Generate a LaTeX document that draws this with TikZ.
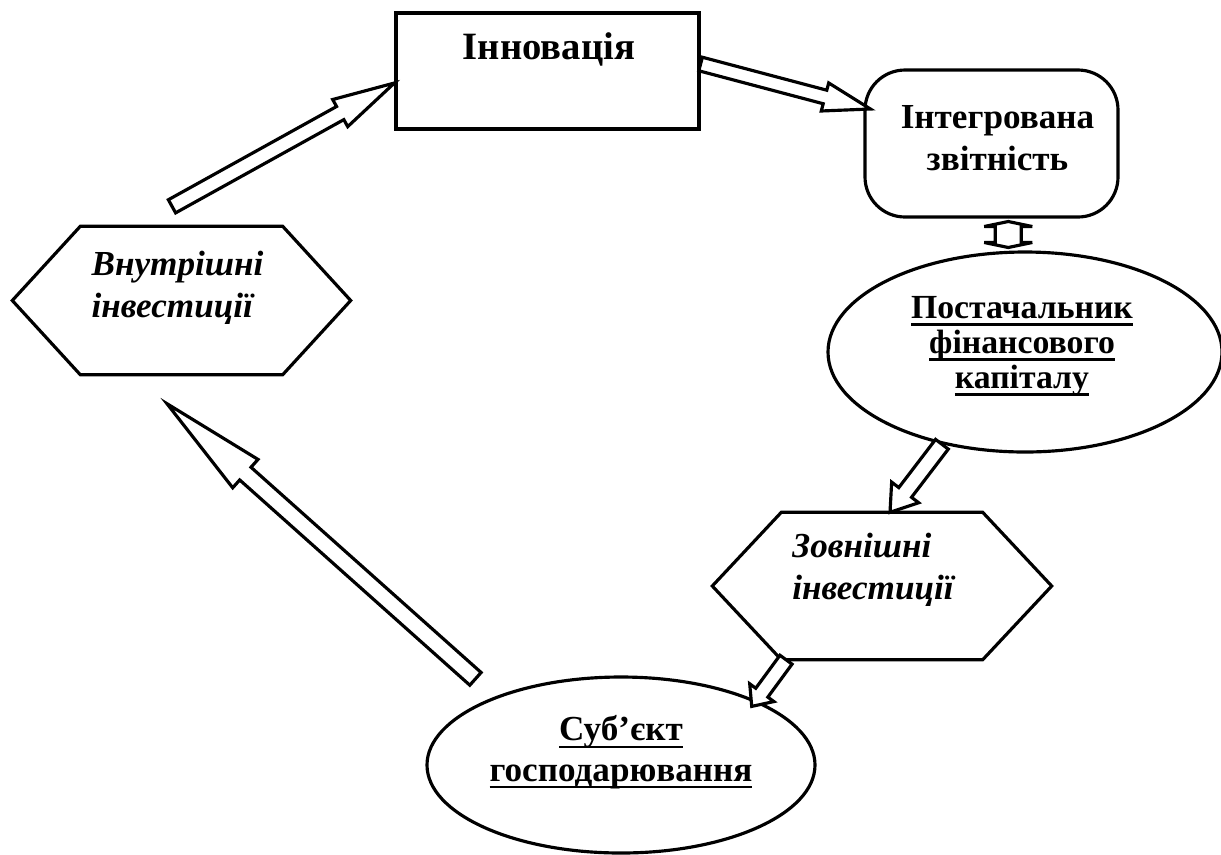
\documentclass[tikz,border=0pt]{standalone}
\usepackage{fontspec}
\setmainfont{Liberation Serif}
\usetikzlibrary{calc,shapes.geometric}
\newsavebox{\ulbox}
\newcommand{\undl}[1]{\sbox{\ulbox}{#1}\rlap{\rule[-2.1pt]{\wd\ulbox}{0.7pt}}\usebox{\ulbox}}
% hollow block arrow: tail, tip, half shaft, half head, head length
\newcommand{\blockarr}[5]{%
  \coordinate (hb) at ($(#2)!#5!(#1)$);
  \draw[barrow] ($(#1)!#3!90:(#2)$) -- ($(hb)!#3!90:(#2)$) -- ($(hb)!#4!90:(#2)$) -- (#2)
    -- ($(hb)!#4!-90:(#2)$) -- ($(hb)!#3!-90:(#2)$) -- ($(#1)!#3!-90:(#2)$) -- cycle;}
% hexagon round an (invisible) node
\newcommand{\hexframe}[2]{%
  \draw[box] (#1.west) -- ([xshift=#2]#1.north west) -- ([xshift=-#2]#1.north east) -- (#1.east)
    -- ([xshift=-#2]#1.south east) -- ([xshift=#2]#1.south west) -- cycle;}
\tikzset{
  box/.style={draw, line width=0.9pt},
  barrow/.style={draw, line width=0.9pt, fill=white, line join=miter},
  lbl/.style={font=\bfseries\fontsize{10}{11.5}\selectfont, align=center},
  ilbl/.style={font=\bfseries\itshape\fontsize{10}{12}\selectfont, align=left},
}
\begin{document}
\begin{tikzpicture}
  \useasboundingbox (0,0) rectangle (12.21,-8.54);
  % nodes
  \node[box, minimum width=3.03cm, minimum height=1.16cm, inner sep=0pt,
    label={[lbl, font=\bfseries\fontsize{11}{13}\selectfont, xshift=0.015cm, yshift=0.22cm]center:Інновація}] (innov) at (5.475,-0.71) {};
  \node[box, rounded corners=0.4cm, minimum width=2.53cm, minimum height=1.47cm, inner sep=0pt,
    label={[lbl, font=\bfseries\fontsize{10}{12}\selectfont, xshift=0.06cm, yshift=0.05cm]center:Інтегрована\\звітність}] (integ) at (9.915,-1.435) {};
  \node[box, ellipse, minimum width=3.94cm, minimum height=2.0cm, inner sep=0pt,
    label={[lbl, font=\bfseries\fontsize{9.6}{10}\selectfont, xshift=-0.03cm, yshift=0.06cm]center:\undl{Постачальник}\\\undl{фінансового}\\\undl{капіталу}}] (post) at (10.25,-3.52) {};
  \node[minimum width=3.38cm, minimum height=1.46cm, inner sep=0pt,
    label={[ilbl, xshift=-0.09cm, yshift=0.16cm]center:Зовнішні\\інвестиції}] (zovn) at (8.82,-5.86) {};
  \hexframe{zovn}{0.69cm}
  \node[box, ellipse, minimum width=3.88cm, minimum height=1.76cm, inner sep=0pt,
    label={[lbl, yshift=0.13cm]center:\undl{Суб’єкт}\\\undl{господарювання}}] (sub) at (6.21,-7.65) {};
  \node[minimum width=3.37cm, minimum height=1.47cm, inner sep=0pt,
    label={[ilbl, xshift=-0.04cm, yshift=0.13cm]center:Внутрішні\\інвестиції}] (vnutr) at (1.815,-3.005) {};
  \hexframe{vnutr}{0.68cm}

  % arrow ends
  \coordinate (vn-top) at ([xshift=-0.095cm, yshift=0.2cm]vnutr.north);
  \coordinate (in-left) at ([yshift=-0.12cm]innov.west);
  \coordinate (in-right) at ([yshift=0.07cm]innov.east);
  \coordinate (ig-left) at ([xshift=0.07cm, yshift=0.345cm]integ.west);
  \coordinate (po-low) at (post.-132);
  \coordinate (zo-top) at ([xshift=0.08cm]zovn.north);
  \coordinate (zo-low) at ([xshift=-0.96cm]zovn.south);
  \coordinate (su-top) at ([yshift=-0.08cm]sub.27);
  \coordinate (su-left) at ([xshift=-0.24cm, yshift=0.16cm]sub.150);
  \coordinate (vn-low) at ([xshift=-0.145cm, yshift=-0.29cm]vnutr.south);

  \blockarr{vn-top}{in-left}{0.075cm}{0.155cm}{0.62cm}
  \blockarr{in-right}{ig-left}{0.07cm}{0.145cm}{0.47cm}
  \blockarr{po-low}{zo-top}{0.08cm}{0.17cm}{0.25cm}
  \blockarr{zo-low}{su-top}{0.075cm}{0.15cm}{0.17cm}
  \blockarr{su-left}{vn-low}{0.085cm}{0.19cm}{1.05cm}

  % two-way arrow
  \coordinate (mid) at ($(integ.south)!0.5!(post.north)$);
  \draw[barrow, miter limit=2, shift={(mid)}] (0,0.13) -- (0.24,0.08) -- (0.13,0.08) -- (0.13,-0.08) -- (0.24,-0.08)
    -- (0,-0.13) -- (-0.24,-0.08) -- (-0.13,-0.08) -- (-0.13,0.08) -- (-0.24,0.08) -- cycle;
\end{tikzpicture}
\end{document}
